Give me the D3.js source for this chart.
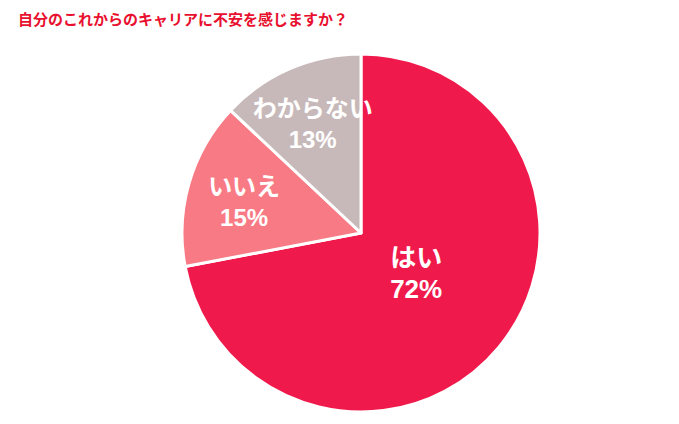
<!DOCTYPE html>
<html><head><meta charset="utf-8">
<script src="https://cdn.jsdelivr.net/npm/d3@7"></script>
<style>body{margin:0;background:#fff}</style></head>
<body><svg id="c" width="679" height="424"></svg>
<script>
const categories = ["はい","いいえ","わからない"];
const values = [72,15,13];
const colors = ["#f0194b","#f87a84","#c7b9b9"];
const title = "自分のこれからのキャリアに不安を感じますか？";
const svg = d3.select("#c");
const font = "'Liberation Sans', 'Noto Sans CJK JP', sans-serif";
svg.append("text").attr("x",18).attr("y",25).attr("fill","#e8102e")
  .attr("font-family","'Noto Sans CJK JP', sans-serif").attr("font-weight","bold").attr("font-size",15).text(title);
const cx=361, cy=233, r=179;
const g = svg.append("g").attr("transform",`translate(${cx},${cy})`);
const pie = d3.pie().sort(null).value(d=>d)(values);
const arc = d3.arc().innerRadius(0).outerRadius(r);
g.selectAll("path").data(pie).join("path").attr("d",arc)
  .attr("fill",(d,i)=>colors[i]).attr("stroke","#fff").attr("stroke-width",3).attr("stroke-linejoin","round");
const labelR = [0.4,0.68,0.68];
const dy = [-12,-4,-4];
pie.forEach((d,i)=>{
  const a=(d.startAngle+d.endAngle)/2, lr=r*labelR[i];
  const x=Math.sin(a)*lr, y=-Math.cos(a)*lr+dy[i];
  const t=g.append("text").attr("text-anchor","middle").attr("fill","#fff")
    .attr("font-family",font).attr("font-weight","bold").attr("font-size",i==0?26:24);
  t.append("tspan").attr("x",x).attr("y",y).text(categories[i]);
  t.append("tspan").attr("x",x).attr("y",y+31).text(values[i]+"%");
});
</script></body></html>
